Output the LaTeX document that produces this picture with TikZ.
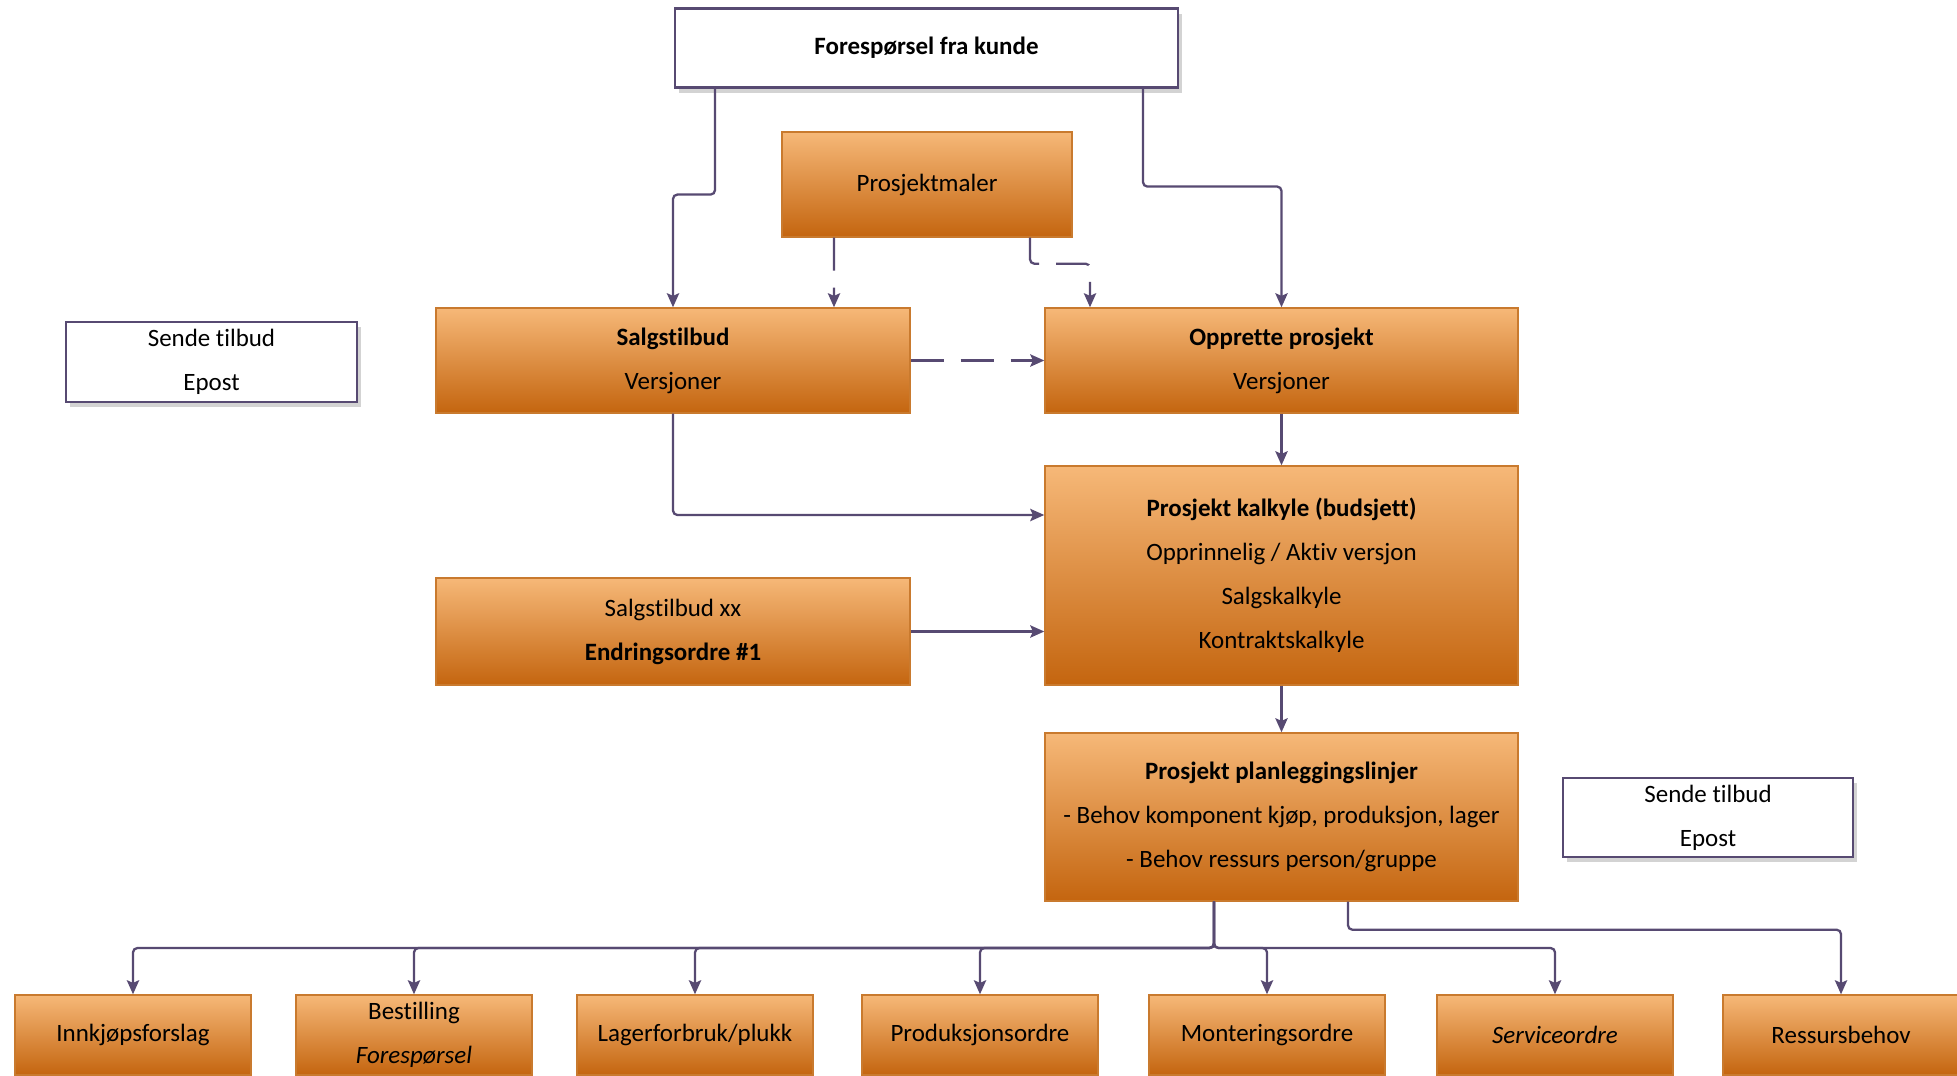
\documentclass[tikz,border=0pt]{standalone}
\usepackage{fontspec}
\setmainfont{Carlito}[Ligatures={NoCommon}]
\usetikzlibrary{arrows.meta,shadows}
\definecolor{flowline}{HTML}{574A72}
\definecolor{boxtop}{HTML}{F6B878}
\definecolor{boxbot}{HTML}{C4650F}
\definecolor{boxedge}{HTML}{C97A2E}

\begin{document}
\begin{tikzpicture}[
    obox/.style={draw=boxedge, line width=0.8pt, top color=boxtop, bottom color=boxbot, align=center, font=\fontsize{14.2}{25}\selectfont, inner sep=0pt},
    wbox/.style={draw=flowline, line width=1.2pt, fill=white, align=center, font=\fontsize{14.2}{25}\selectfont, inner sep=0pt, drop shadow={shadow xshift=2pt, shadow yshift=-3pt, opacity=0.35}},
    arr/.style={-{Stealth[length=8pt,width=7pt,inset=1.5pt]}, draw=flowline, line width=1.3pt, rounded corners=2.5pt},
    darr/.style={arr, dash pattern=on 0.66cm off 0.34cm}]
  \useasboundingbox (0,0) rectangle (39.14,-21.5);
  \clip (0,0) rectangle (39.14,-21.5);
  \node[wbox, minimum width=10.06cm, minimum height=1.58cm] (fore)  at (18.53,-0.96)  {\textbf{Forespørsel fra kunde}};
  \node[obox, minimum width=5.8cm,  minimum height=2.1cm]  (maler) at (18.54,-3.69)  {Prosjektmaler};
  \node[obox, minimum width=9.48cm, minimum height=2.1cm]  (salg)  at (13.46,-7.21)  {\textbf{Salgstilbud}\\Versjoner};
  \node[obox, minimum width=9.46cm, minimum height=2.1cm]  (oppr)  at (25.63,-7.21)  {\textbf{Opprette prosjekt}\\Versjoner};
  \node[wbox, minimum width=5.82cm, minimum height=1.6cm]  (sendl) at (4.23,-7.24)   {Sende tilbud\\Epost};
  \node[obox, minimum width=9.46cm, minimum height=4.38cm] (kalk)  at (25.63,-11.51) {\textbf{Prosjekt kalkyle (budsjett)}\\Opprinnelig / Aktiv versjon\\Salgskalkyle\\Kontraktskalkyle};
  \node[obox, minimum width=9.48cm, minimum height=2.14cm] (xx)    at (13.46,-12.63) {Salgstilbud xx\\\textbf{Endringsordre \#1}};
  \node[obox, minimum width=9.46cm, minimum height=3.36cm] (plan)  at (25.63,-16.34) {\textbf{Prosjekt planleggingslinjer}\\- Behov komponent kjøp, produksjon, lager\\- Behov ressurs person/gruppe};
  \node[wbox, minimum width=5.8cm,  minimum height=1.58cm] (sendr) at (34.16,-16.35) {Sende tilbud\\Epost};
  % bottom row
  \node[obox, minimum width=4.72cm, minimum height=1.6cm] (innk)  at (2.66,-20.7)  {Innkjøpsforslag};
  \node[obox, minimum width=4.72cm, minimum height=1.6cm] (best)  at (8.28,-20.7)  {Bestilling\\\textit{Forespørsel}};
  \node[obox, minimum width=4.72cm, minimum height=1.6cm] (lager) at (13.9,-20.7)  {Lagerforbruk/plukk};
  \node[obox, minimum width=4.72cm, minimum height=1.6cm] (prod)  at (19.6,-20.7)  {Produksjonsordre};
  \node[obox, minimum width=4.72cm, minimum height=1.6cm] (mont)  at (25.34,-20.7) {Monteringsordre};
  \node[obox, minimum width=4.72cm, minimum height=1.6cm] (serv)  at (31.1,-20.7)  {\textit{Serviceordre}};
  \node[obox, minimum width=4.72cm, minimum height=1.6cm] (ress)  at (36.82,-20.7) {Ressursbehov};
  \draw[arr] ([xshift=-4.23cm]fore.south) -- ++(0,-2.12) -| (salg.north);
  \draw[arr] ([xshift=4.33cm]fore.south) -- ++(0,-1.96) -| (oppr.north);
  \draw[darr] ([xshift=-1.86cm]maler.south) -- ([xshift=3.22cm]salg.north);
  \draw[darr] ([xshift=2.06cm]maler.south) -- ++(0,-0.52) -| ([xshift=-3.83cm]oppr.north);
  \draw[darr] (salg) -- (oppr);
  \draw[arr] (oppr) -- (kalk);
  \draw[arr] (salg.south) |- ([yshift=1.21cm]kalk.west);
  \draw[arr] (xx.east) -- (xx.east -| kalk.west);
  \draw[arr] (kalk) -- (plan);
  \coordinate (split) at (24.28,-18.96);
  \foreach \b in {innk,best,lager,prod,mont,serv}
    \draw[arr] ([xshift=-1.35cm]plan.south) -- (split) -| (\b.north);
  \draw[arr] ([xshift=1.33cm]plan.south) -- ++(0,-0.56) -| (ress.north);
\end{tikzpicture}
\end{document}
